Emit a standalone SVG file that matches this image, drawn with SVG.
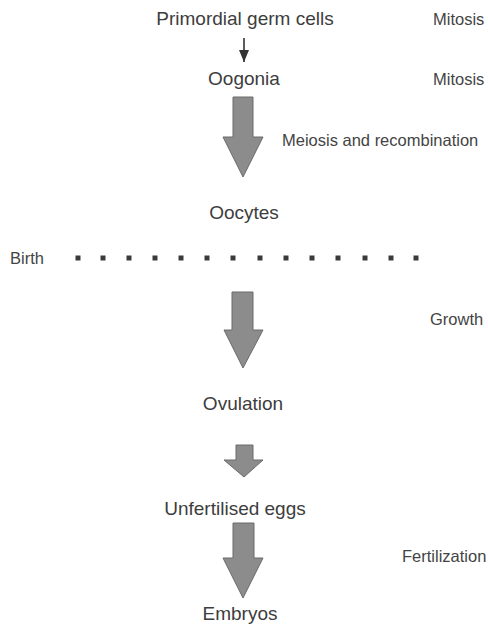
<svg xmlns="http://www.w3.org/2000/svg" width="488" height="632" viewBox="0 0 488 632">
<style>
  .main{font-family:"Liberation Sans",Arial,sans-serif;font-size:19px;fill:#3d3d3d;text-anchor:middle}
  .side{font-family:"Liberation Sans",Arial,sans-serif;font-size:16.5px;fill:#444}
  .big{fill:#8c8c8c;stroke:#6a6a6a;stroke-width:1}
  .dot{fill:#3a3a3a}
</style>
<defs>
  <marker id="head" viewBox="0 0 12 10" refX="12" refY="5" markerWidth="12" markerHeight="10" markerUnits="userSpaceOnUse" orient="auto">
    <path d="M0,0 L12,5 L0,10 Z" fill="#333"/>
  </marker>
</defs>
<rect width="488" height="632" fill="#fff"/>
<g id="primordial"><text class="main" x="245" y="25">Primordial germ cells</text></g>
<g id="oogonia"><text class="main" x="244" y="85">Oogonia</text></g>
<g id="oocytes"><text class="main" x="244" y="219">Oocytes</text></g>
<g id="birth">
  <text class="side" x="10" y="264">Birth</text>
  <g class="dot">
    <rect x="75.5" y="255.5" width="5" height="5"/>
    <rect x="100.5" y="255.5" width="5" height="5"/>
    <rect x="126.5" y="255.5" width="5" height="5"/>
    <rect x="152.5" y="255.5" width="5" height="5"/>
    <rect x="178.5" y="255.5" width="5" height="5"/>
    <rect x="204.5" y="255.5" width="5" height="5"/>
    <rect x="230.5" y="255.5" width="5" height="5"/>
    <rect x="257.5" y="255.5" width="5" height="5"/>
    <rect x="283.5" y="255.5" width="5" height="5"/>
    <rect x="309.5" y="255.5" width="5" height="5"/>
    <rect x="335.5" y="255.5" width="5" height="5"/>
    <rect x="362.5" y="255.5" width="5" height="5"/>
    <rect x="388.5" y="255.5" width="5" height="5"/>
    <rect x="413.5" y="255.5" width="5" height="5"/>
  </g>
</g>
<g id="ovulation"><text class="main" x="243" y="410">Ovulation</text></g>
<g id="unfertilised"><text class="main" x="235" y="515">Unfertilised eggs</text></g>
<g id="embryos"><text class="main" x="240" y="620">Embryos</text></g>
<g id="connectors">
  <line x1="244" y1="38" x2="244" y2="62" stroke="#333" stroke-width="1.6" marker-end="url(#head)"/>
  <polygon class="big" points="233,97 253,97 253,137 263,137 243,177 223,137 233,137"/>
  <polygon class="big" points="232,292 253,292 253,330 263,330 243,368 224,330 232,330"/>
  <polygon class="big" points="236,445 253,445 253,460 263,460 244,477 224,460 236,460"/>
  <polygon class="big" points="233,523 254,523 254,558 263,558 243,598 223,558 233,558"/>
</g>
<g id="labels">
  <text class="side" x="433" y="25">Mitosis</text>
  <text class="side" x="433" y="85">Mitosis</text>
  <text class="side" x="282" y="146">Meiosis and recombination</text>
  <text class="side" x="430" y="325">Growth</text>
  <text class="side" x="402" y="562">Fertilization</text>
</g>
</svg>
